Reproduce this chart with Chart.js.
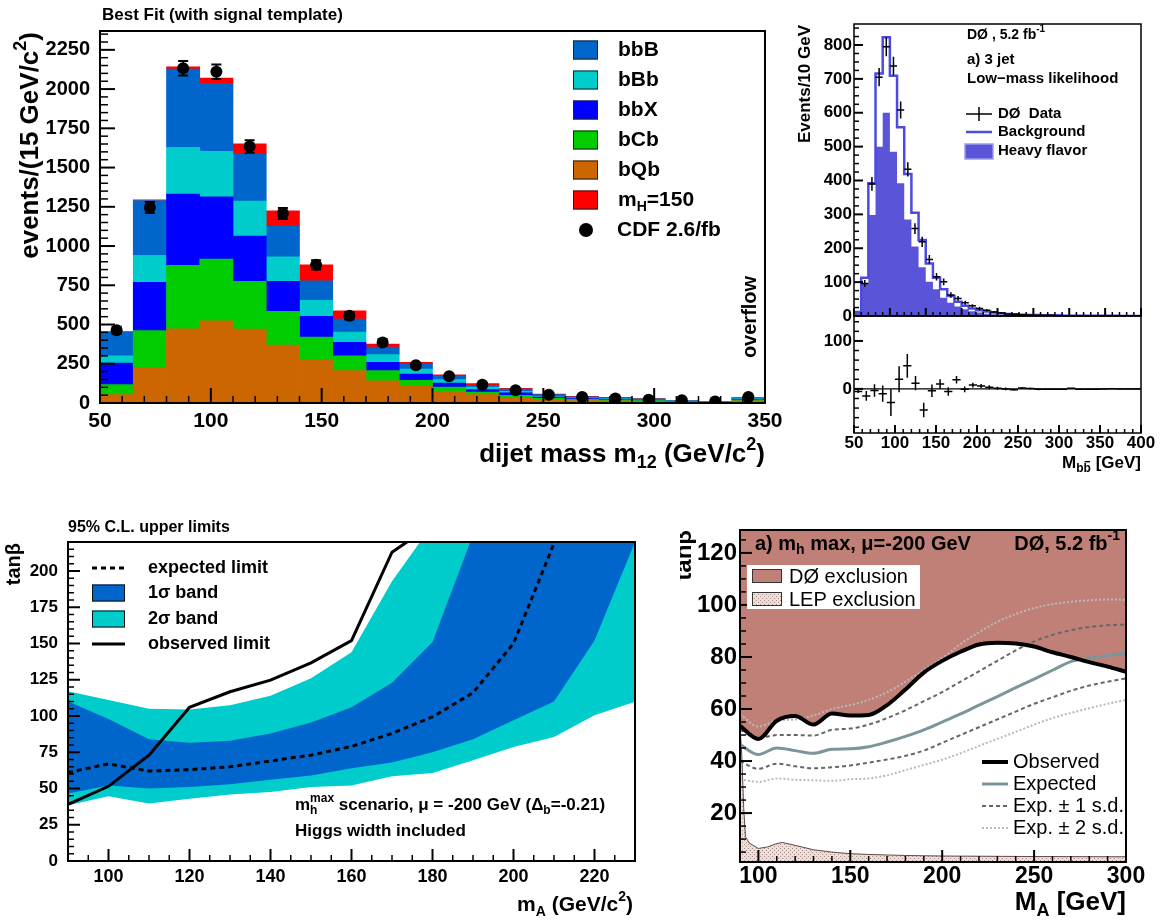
<!DOCTYPE html>
<html>
<head>
<meta charset="utf-8">
<title>Dijet mass fits and tanβ limits</title>
<script src="https://cdn.jsdelivr.net/npm/chart.js@4.4.1/dist/chart.umd.min.js"></script>
<style>
  html, body { margin: 0; padding: 0; background: #fff; }
  #page { position: relative; width: 1161px; height: 922px; overflow: hidden; }
  #page canvas { position: absolute; left: 0; top: 0; }
</style>
</head>
<body>
<div id="page">
  <canvas id="fitChart" width="1161" height="922"></canvas>
  <canvas id="mbbChart" width="1161" height="922"></canvas>
  <canvas id="residChart" width="1161" height="922"></canvas>
  <canvas id="cdfLimitChart" width="1161" height="922"></canvas>
  <canvas id="d0LimitChart" width="1161" height="922"></canvas>
</div>
<script>
// ---------- CDF dijet mass fit (15 GeV bins, last one is the overflow) ----------
const fitBinLow = [50, 65, 80, 95, 110, 125, 140, 155, 170, 185, 200, 215, 230, 245, 260, 275, 290, 305, 320, 335];
const fitBinWidth = 15;
const bQb = [53, 227, 473, 524, 471, 369, 276, 206, 142, 106, 74, 53, 36, 21, 16, 14, 11, 6, 3, 14];
const bCb = [64, 234, 404, 393, 304, 215, 144, 95, 64, 38, 28, 17, 13, 9, 7, 6, 5, 3, 2, 6];
const bbX = [138, 307, 454, 397, 288, 191, 132, 85, 53, 41, 25, 15, 15, 8, 5, 5, 4, 2, 1, 5];
const bBb = [46, 172, 297, 289, 223, 157, 102, 66, 49, 31, 22, 17, 10, 4, 5, 4, 3, 2, 1, 4];
const bbB = [151, 350, 499, 433, 302, 193, 125, 83, 49, 32, 21, 10, 15, 11, 6, 5, 4, 2, 1, 4];
const mH150 = [3, 5, 15, 34, 63, 99, 101, 53, 19, 11, 10, 11, 4, 4, 3, 2, 1, 1, 0, 1];
const cdfData = [463, 1246, 2133, 2110, 1634, 1208, 880, 556, 386, 240, 170, 117, 81, 53, 38, 28, 21, 17, 10, 38];
const cdfErr = [22, 35, 46, 46, 40, 35, 30, 24, 20, 15, 13, 11, 9, 7, 6, 5, 5, 4, 3, 6];

// ---------- D0 3-jet M_bb (10 GeV bins) ----------
const mbbBinLow = [50, 60, 70, 80, 90, 100, 110, 120, 130, 140, 150, 160, 170, 180, 190, 200, 210, 220, 230, 240,
                   250, 260, 270, 280, 290, 300, 310, 320, 330, 340, 350, 360, 370, 380, 390, 400, 410, 420, 430, 440];
const mbbBinWidth = 10;
const mbbHeavy = [10, 96, 298, 500, 600, 485, 392, 285, 205, 144, 101, 79, 54, 39, 28, 20, 14, 10, 7, 5,
                  4, 3, 2, 2, 1, 1, 1, 1, 1, 1, 0, 0, 0, 0, 0, 0, 0, 0, 0, 0];
const mbbBkg = [12, 113, 392, 716, 823, 709, 557, 419, 305, 224, 155, 113, 79, 59, 42, 30, 22, 17, 13, 10,
                8, 6, 5, 4, 3, 3, 2, 2, 2, 1, 1, 1, 1, 1, 1, 1, 1, 0, 0, 0];
const mbbData = [null, 96, 390, 705, 795, 738, 608, 433, 258, 219, 167, 116, 101, 62, 52, 39, 30, 22, 17, 12,
                 9, 6, 5, 4, 3, 2, 2, 2, 1, 1, 1, 1, 1, 1, 1, 1, 0, 0, 0, 0];
const mbbErr = [0, 10, 20, 27, 28, 27, 25, 21, 16, 15, 13, 11, 10, 8, 7, 6, 5, 5, 4, 3,
                3, 2, 2, 2, 2, 1, 1, 1, 1, 1, 1, 1, 1, 1, 1, 1, 1, 1, 1, 1];
// data - background, lower pad
const residMass = [55, 65, 75, 85, 95, 105, 115, 125, 135, 145, 155, 165, 175, 185, 195, 205, 215, 225, 235, 245,
                   255, 265, 275, 285, 295, 305, 315, 325, 335, 345, 355, 365, 375, 385, 395];
const residVal = [-5.5, -14.6, -3.5, -10, -28.5, 20, 48, 12, -44, -4, 10, -5.5, 19, -1, 8, 6, 3.5, 1.4, 0, -2,
                  2, 0.7, -0.7, -1, -1, -1, 1.4, -0.5, -0.5, -0.5, 0, 0.5, 0, 0, 0];
const residErr = [3, 10, 13, 17, 28, 27, 25, 15, 15, 13, 10, 9, 8, 6, 5, 4, 4, 3, 3, 2,
                  2, 2, 2, 1, 1, 1, 1, 1, 1, 1, 1, 1, 1, 1, 1];

// ---------- CDF 95% C.L. tanβ limits ----------
const cdfMA = [90, 100, 110, 120, 130, 140, 150, 160, 170, 180, 190, 200, 210, 220, 230];
const cdfObs = [39, 51.5, 73, 106, 116.7, 124.7, 136.7, 152, 213, 232, 280, 330, 380, 430, 480];
const cdfExp = [61, 67, 62, 63, 65, 69, 73, 79, 88, 99.4, 116, 150, 219, 320, 420];
const cdfUp1 = [110, 98, 84, 81.5, 83, 88, 95.5, 106, 123, 151, 225, 300, 380, 450, 520];
const cdfDn1 = [46.5, 52, 50, 51, 53, 56, 59, 64, 68, 75, 84, 97, 110, 152, 220];
const cdfUp2 = [117, 111, 105, 104.5, 107.5, 114, 126, 144, 193, 232, 290, 350, 420, 480, 550];
const cdfDn2 = [38.4, 44.6, 39.6, 43, 45.8, 47.6, 51, 52, 58.4, 60.7, 69.5, 78.7, 85.6, 100.6, 109.8];

// ---------- D0 tanβ exclusion ----------
const d0MA = [90, 100, 110, 120, 130, 140, 150, 160, 170, 180, 190, 200, 210, 220, 230, 240, 250, 260, 270, 280, 290, 300];
const d0Obs = [53.5, 48.5, 55.5, 57.3, 54, 58.3, 57.5, 57.7, 61.5, 67.5, 74, 78.5, 82, 84.8, 85.5, 85.2, 84, 81.8, 80, 78, 76.3, 74.3];
const d0Exp = [46.3, 42.5, 45, 44, 43, 44.5, 44.7, 45.5, 47.3, 49.5, 52, 55, 58.1, 61.5, 64.8, 68.2, 71.5, 74.9, 78.2, 79.5, 80.6, 81.6];
const d0Up1 = [52, 48.8, 50, 50, 49.8, 52, 52.5, 54, 56.5, 59.5, 63, 66.5, 70.5, 74.5, 78.5, 82.5, 86, 88.5, 90.3, 91.5, 92.2, 92.5];
const d0Dn1 = [40, 37, 39, 38, 37.2, 37.6, 38.3, 39.4, 40.6, 42, 44, 47, 50, 53, 56, 59, 62, 64.5, 67, 69, 70.5, 71.8];
const d0Up2 = [58, 53.3, 55.5, 56, 57.5, 60, 61.5, 63.5, 66.5, 70.5, 75, 79.5, 85, 89.5, 93.5, 96.5, 98.8, 100.3, 101.2, 101.8, 102.1, 102];
const d0Dn2 = [33, 32, 33.3, 32.8, 32.6, 32.4, 33, 33.3, 34.5, 36.5, 38.5, 40.5, 43, 45.8, 48.5, 51.2, 54, 56.5, 58.5, 60.3, 62, 63.5];
const lepMA = [90, 91, 92, 93, 95, 100, 105, 110, 113, 120, 130, 140, 150, 160, 180, 200, 250, 300];
const lepTanb = [53, 42, 22, 11, 8.5, 6.4, 7, 8.3, 8.7, 7.6, 5.9, 5, 4.4, 4.1, 3.7, 3.5, 3.3, 3.2];

const FONT = "'Liberation Sans', Arial, Helvetica, sans-serif";
Chart.defaults.font.family = FONT;
Chart.defaults.color = '#000';
Chart.defaults.animation = false;
Chart.defaults.responsive = false;
Chart.defaults.plugins.legend.display = false;
Chart.defaults.plugins.tooltip.enabled = false;
Chart.defaults.elements.point.radius = 0;

function xy(xs, ys) {
  return xs.map((x, i) => ({ x: x, y: ys[i] })).filter(p => p.y !== null);
}

// outline points for a histogram drawn as a stepped line
function histSteps(lows, width, vals) {
  const pts = [{ x: lows[0], y: 0 }];
  vals.forEach((v, i) => pts.push({ x: lows[i], y: v }));
  pts.push({ x: lows[lows.length - 1] + width, y: vals[vals.length - 1] });
  return pts;
}

function linAxis(o) {
  return {
    type: 'linear',
    position: o.position,
    display: o.display !== false,
    min: o.min,
    max: o.max,
    offset: false,
    grid: { display: false, drawTicks: false },
    border: { display: false },
    ticks: {
      padding: o.pad,
      autoSkip: false,
      maxRotation: 0,
      color: '#000',
      font: { size: o.font, weight: 'bold' },
      callback: v => String(v)
    },
    // labelled ticks only on multiples of the step
    afterBuildTicks: s => {
      const out = [];
      for (let i = Math.ceil(s.min / o.step - 1e-9); i * o.step <= s.max + 1e-9; i++) out.push({ value: i * o.step });
      s.ticks = out;
    },
    afterFit: s => {
      if (o.position === 'left') s.width = o.size; else s.height = o.size;
    }
  };
}

// text with sub/superscripts; parts are strings or {t, sub|sup, hold, bar}
function rich(ctx, parts, x, y, size, align, weight) {
  weight = weight || 'bold';
  const small = Math.round(size * 0.68);
  const items = parts.map(p => typeof p === 'string' ? { t: p } : Object.assign({}, p));
  const fontOf = p => `${weight} ${p.sub || p.sup ? small : size}px ${FONT}`;
  let total = 0;
  items.forEach(p => {
    ctx.font = fontOf(p);
    p.w = ctx.measureText(p.t).width;
    if (!p.hold) total += p.w;
  });
  let cx = align === 'right' ? x - total : align === 'center' ? x - total / 2 : x;
  ctx.textAlign = 'left';
  ctx.textBaseline = 'middle';
  items.forEach(p => {
    ctx.font = fontOf(p);
    const dy = p.sub ? size * 0.32 : p.sup ? -size * 0.38 : 0;
    ctx.fillText(p.t, cx, y + dy);
    if (p.bar) ctx.fillRect(cx + 1, y + dy - small * 0.62, p.w - 2, Math.max(1, size * 0.08));
    if (!p.hold) cx += p.w;
  });
}

function vrich(ctx, parts, x, y, size, align, weight) {
  ctx.save();
  ctx.translate(x, y);
  ctx.rotate(-Math.PI / 2);
  rich(ctx, parts, 0, 0, size, align, weight);
  ctx.restore();
}

function line(ctx, x1, y1, x2, y2, color, width, dash) {
  ctx.save();
  ctx.strokeStyle = color;
  ctx.lineWidth = width;
  ctx.setLineDash(dash || []);
  ctx.beginPath();
  ctx.moveTo(x1, y1);
  ctx.lineTo(x2, y2);
  ctx.stroke();
  ctx.restore();
}

// ROOT-style frame with ticks pointing into the pad
const rootAxes = {
  id: 'rootAxes',
  afterDatasetsDraw(chart, args, opts) {
    if (!opts.x) return;
    const { ctx, chartArea: a } = chart;
    ctx.save();
    ctx.strokeStyle = '#000';
    ['x', 'y'].forEach(id => {
      const t = opts[id], s = chart.scales[id];
      const first = Math.ceil(s.min / t.minor - 1e-6);
      const last = Math.floor(s.max / t.minor + 1e-6);
      for (let i = first; i <= last; i++) {
        const v = i * t.minor;
        const major = Math.abs(v / t.major - Math.round(v / t.major)) < 1e-6;
        const len = major ? t.majorLen : t.minorLen;
        const p = s.getPixelForValue(v);
        ctx.lineWidth = major ? 2 : 1.5;
        ctx.beginPath();
        if (id === 'x') { ctx.moveTo(p, a.bottom); ctx.lineTo(p, a.bottom - len); }
        else { ctx.moveTo(a.left, p); ctx.lineTo(a.left + len, p); }
        ctx.stroke();
      }
    });
    ctx.lineWidth = opts.frame || 2;
    ctx.strokeRect(a.left, a.top, a.width, a.height);
    ctx.restore();
  }
};

// vertical (and optional horizontal) error bars from dataset.yErr
const errorBars = {
  id: 'errorBars',
  afterDatasetsDraw(chart) {
    const { ctx, chartArea: a } = chart;
    const xs = chart.scales.x, ys = chart.scales.y;
    chart.data.datasets.forEach(ds => {
      if (!ds.yErr) return;
      const st = ds.errStyle || {};
      ctx.save();
      ctx.beginPath();
      ctx.rect(a.left, a.top, a.width, a.height);
      ctx.clip();
      ctx.strokeStyle = '#000';
      ctx.lineWidth = st.width || 1.5;
      ds.data.forEach((pt, j) => {
        const e = ds.yErr[j] || 0;
        const px = xs.getPixelForValue(pt.x);
        const py = ys.getPixelForValue(pt.y);
        const top = ys.getPixelForValue(pt.y + e), bot = ys.getPixelForValue(pt.y - e);
        ctx.beginPath();
        ctx.moveTo(px, top);
        ctx.lineTo(px, bot);
        if (st.cap) {
          ctx.moveTo(px - st.cap, top); ctx.lineTo(px + st.cap, top);
          ctx.moveTo(px - st.cap, bot); ctx.lineTo(px + st.cap, bot);
        }
        if (st.xErr) {
          ctx.moveTo(xs.getPixelForValue(pt.x - st.xErr), py);
          ctx.lineTo(xs.getPixelForValue(pt.x + st.xErr), py);
        }
        ctx.stroke();
      });
      ctx.restore();
    });
  }
};

Chart.register(rootAxes, errorBars);

// ================= top left: stacked fit =================
const fitCenters = fitBinLow.map(x => x + fitBinWidth / 2);
const fitSeries = [
  { label: 'bQb', color: '#cc6600', values: bQb },
  { label: 'bCb', color: '#00cc00', values: bCb },
  { label: 'bbX', color: '#0000ff', values: bbX },
  { label: 'bBb', color: '#00cccc', values: bBb },
  { label: 'bbB', color: '#0066cc', values: bbB },
  { label: 'mH=150', color: '#ff0000', values: mH150 }
];

const fitText = {
  id: 'fitText',
  afterDraw(chart) {
    const ctx = chart.ctx;
    ctx.save();
    ctx.fillStyle = '#000';
    rich(ctx, ['Best Fit (with signal template)'], 102, 15, 17, 'left');
    rich(ctx, ['dijet mass m', { t: '12', sub: true }, ' (GeV/c', { t: '2', sup: true }, ')'], 765, 455, 26, 'right');
    vrich(ctx, ['events/(15 GeV/c', { t: '2', sup: true }, ')'], 31, 32, 26, 'right');
    vrich(ctx, ['overflow'], 750, 317, 20, 'center');

    // legend: backgrounds from the top of the stack down, then the signal
    const rows = fitSeries.slice(0, 5).reverse().concat([fitSeries[5]]);
    rows.forEach((s, i) => {
      const y = 50 + 30 * i;
      ctx.fillStyle = s.color;
      ctx.fillRect(573, y - 9.5, 25, 19);
      ctx.strokeStyle = '#222';
      ctx.lineWidth = 1;
      ctx.strokeRect(573.5, y - 9, 24, 18);
      ctx.fillStyle = '#000';
      const label = s.label === 'mH=150' ? ['m', { t: 'H', sub: true }, '=150'] : [s.label];
      rich(ctx, label, 618, y, 21, 'left');
    });
    ctx.beginPath();
    ctx.arc(586, 230, 7, 0, Math.PI * 2);
    ctx.fill();
    rich(ctx, ['CDF 2.6/fb'], 617, 230, 21, 'left');
    ctx.restore();
  }
};

new Chart(document.getElementById('fitChart'), {
  type: 'bar',
  data: {
    datasets: [
      {
        type: 'scatter', label: 'CDF 2.6/fb', stack: 'data',
        data: xy(fitCenters, cdfData), yErr: cdfErr, errStyle: { cap: 5, width: 2 },
        pointRadius: 6, pointBackgroundColor: '#000', pointBorderWidth: 0
      }
    ].concat(fitSeries.map(s => ({
      label: s.label, stack: 'fit',
      data: xy(fitCenters, s.values),
      backgroundColor: s.color, borderWidth: 0,
      barPercentage: 1, categoryPercentage: 1
    })))
  },
  options: {
    layout: { padding: { left: 0, top: 31, right: 396, bottom: 479 } },
    scales: {
      x: Object.assign(linAxis({ position: 'bottom', min: 50, max: 350, step: 50, font: 21, pad: 6, size: 40 }), { stacked: true }),
      y: Object.assign(linAxis({ position: 'left', min: 0, max: 2370, step: 250, font: 20, pad: 10, size: 100 }), { stacked: true })
    },
    plugins: {
      rootAxes: {
        x: { major: 50, minor: 10, majorLen: 15, minorLen: 7 },
        y: { major: 250, minor: 50, majorLen: 15, minorLen: 8 },
        frame: 2
      }
    }
  },
  plugins: [fitText]
});

// ================= top right: D0 M_bb with residuals =================
const HF_COLOR = '#5a55d8';
const BKG_COLOR = '#4b4be2';

const mbbText = {
  id: 'mbbText',
  afterDraw(chart) {
    const ctx = chart.ctx;
    ctx.save();
    ctx.fillStyle = '#000';
    rich(ctx, ['DØ , 5.2 fb', { t: '-1', sup: true }], 967, 35, 14, 'left');
    rich(ctx, ['a) 3 jet'], 967, 60, 15, 'left');
    rich(ctx, ['Low−mass likelihood'], 967, 79, 15, 'left');
    line(ctx, 966, 114, 992, 114, '#000', 1.5);
    line(ctx, 979, 107, 979, 121, '#000', 1.5);
    rich(ctx, ['DØ  Data'], 998, 114, 15, 'left');
    line(ctx, 966, 132, 992, 132, BKG_COLOR, 2.5);
    rich(ctx, ['Background'], 998, 132, 15, 'left');
    ctx.fillStyle = HF_COLOR;
    ctx.fillRect(965, 144, 28, 15);
    ctx.strokeStyle = '#9d9aec';
    ctx.lineWidth = 1.5;
    ctx.strokeRect(965, 144, 28, 15);
    ctx.fillStyle = '#000';
    rich(ctx, ['Heavy flavor'], 998, 151, 15, 'left');
    vrich(ctx, ['Events/10 GeV'], 805, 25, 17, 'right');
    ctx.restore();
  }
};

new Chart(document.getElementById('mbbChart'), {
  type: 'line',
  data: {
    datasets: [
      {
        label: 'DØ Data', showLine: false,
        data: xy(mbbBinLow.map(x => x + mbbBinWidth / 2), mbbData),
        yErr: mbbErr.filter((e, i) => mbbData[i] !== null),
        errStyle: { xErr: mbbBinWidth / 2, width: 1.5 }
      },
      {
        label: 'Background', data: histSteps(mbbBinLow, mbbBinWidth, mbbBkg),
        stepped: true, borderColor: BKG_COLOR, borderWidth: 2.5, fill: false
      },
      {
        label: 'Heavy flavor', data: histSteps(mbbBinLow, mbbBinWidth, mbbHeavy),
        stepped: true, borderWidth: 0, backgroundColor: HF_COLOR, fill: 'origin'
      }
    ]
  },
  options: {
    layout: { padding: { left: 804, top: 24, right: 20, bottom: 606 } },
    scales: {
      x: linAxis({ position: 'bottom', display: false, min: 50, max: 450, step: 50, font: 17, pad: 0, size: 0 }),
      y: linAxis({ position: 'left', min: 0, max: 862, step: 100, font: 17, pad: 2, size: 50 })
    },
    plugins: {
      rootAxes: {
        x: { major: 50, minor: 10, majorLen: 8, minorLen: 4 },
        y: { major: 100, minor: 25, majorLen: 9, minorLen: 5 },
        frame: 1.5
      }
    }
  },
  plugins: [mbbText]
});

const residText = {
  id: 'residText',
  beforeDatasetsDraw(chart) {
    const { ctx, chartArea: a, scales } = chart;
    const y0 = scales.y.getPixelForValue(0);
    line(ctx, a.left, y0, a.right, y0, '#000', 1.2);
  },
  afterDraw(chart) {
    const ctx = chart.ctx;
    ctx.save();
    ctx.fillStyle = '#000';
    rich(ctx, ['M', { t: 'b', sub: true }, { t: 'b', sub: true, bar: true }, ' [GeV]'], 1141, 463, 17, 'right');
    ctx.restore();
  }
};

new Chart(document.getElementById('residChart'), {
  type: 'line',
  data: {
    datasets: [{
      label: 'Data - Background', showLine: false,
      data: xy(residMass, residVal), yErr: residErr,
      errStyle: { xErr: 5, width: 1.5 }
    }]
  },
  options: {
    layout: { padding: { left: 804, top: 316, right: 20, bottom: 459 } },
    scales: {
      x: linAxis({ position: 'bottom', min: 50, max: 400, step: 50, font: 17, pad: 0, size: 30 }),
      y: linAxis({ position: 'left', min: -92, max: 152, step: 100, font: 17, pad: 2, size: 50 })
    },
    plugins: {
      rootAxes: {
        x: { major: 50, minor: 10, majorLen: 8, minorLen: 4 },
        y: { major: 100, minor: 20, majorLen: 9, minorLen: 5 },
        frame: 1.5
      }
    }
  },
  plugins: [residText]
});

// ================= bottom left: CDF limits =================
const BAND1 = '#0066cc';
const BAND2 = '#00cccc';

const cdfText = {
  id: 'cdfText',
  afterDraw(chart) {
    const ctx = chart.ctx;
    ctx.save();
    ctx.fillStyle = '#000';
    rich(ctx, ['95% C.L. upper limits'], 68, 528, 16, 'left');
    vrich(ctx, ['tanβ'], 14, 543, 20, 'right');
    rich(ctx, ['m', { t: 'A', sub: true }, ' (GeV/c', { t: '2', sup: true }, ')'], 633, 905, 21, 'right');
    rich(ctx, ['m', { t: 'h', sub: true, hold: true }, { t: 'max', sup: true },
               ' scenario, μ = -200 GeV (Δ', { t: 'b', sub: true }, '=-0.21)'], 295, 805, 17, 'left');
    rich(ctx, ['Higgs width included'], 295, 831, 17, 'left');

    line(ctx, 92, 568, 125, 568, '#000', 3, [5, 4]);
    rich(ctx, ['expected limit'], 148, 568, 18, 'left');
    [[BAND1, 593, '1σ band'], [BAND2, 619, '2σ band']].forEach(r => {
      ctx.fillStyle = r[0];
      ctx.fillRect(92, r[1] - 8.5, 33, 17);
      ctx.strokeStyle = '#111';
      ctx.lineWidth = 1;
      ctx.strokeRect(92.5, r[1] - 8, 32, 16);
      ctx.fillStyle = '#000';
      rich(ctx, [r[2]], 148, r[1], 18, 'left');
    });
    line(ctx, 92, 644, 125, 644, '#000', 3);
    rich(ctx, ['observed limit'], 148, 644, 18, 'left');
    ctx.restore();
  }
};

new Chart(document.getElementById('cdfLimitChart'), {
  type: 'line',
  data: {
    datasets: [
      { label: 'observed limit', data: xy(cdfMA, cdfObs), borderColor: '#000', borderWidth: 3, fill: false },
      { label: 'expected limit', data: xy(cdfMA, cdfExp), borderColor: '#000', borderWidth: 3, borderDash: [5, 4], fill: false },
      { label: '1σ upper', data: xy(cdfMA, cdfUp1), borderWidth: 0, backgroundColor: BAND1, fill: '+1' },
      { label: '1σ lower', data: xy(cdfMA, cdfDn1), borderWidth: 0, fill: false },
      { label: '2σ upper', data: xy(cdfMA, cdfUp2), borderWidth: 0, backgroundColor: BAND2, fill: '+1' },
      { label: '2σ lower', data: xy(cdfMA, cdfDn2), borderWidth: 0, fill: false }
    ]
  },
  options: {
    layout: { padding: { left: 8, top: 542, right: 526, bottom: 31 } },
    scales: {
      x: linAxis({ position: 'bottom', min: 90, max: 230, step: 20, font: 18, pad: 5, size: 30 }),
      y: linAxis({ position: 'left', min: 0, max: 220, step: 25, font: 17, pad: 10, size: 60 })
    },
    plugins: {
      rootAxes: {
        x: { major: 20, minor: 5, majorLen: 12, minorLen: 6 },
        y: { major: 25, minor: 5, majorLen: 12, minorLen: 6 },
        frame: 2
      }
    }
  },
  plugins: [cdfText]
});

// ================= bottom right: D0 exclusion =================
const EXCL = '#c08078';
const EXP_COLOR = '#7c959b';
const d0Canvas = document.getElementById('d0LimitChart');
const lepTile = document.createElement('canvas');
lepTile.width = 4;
lepTile.height = 4;
const tileCtx = lepTile.getContext('2d');
tileCtx.fillStyle = '#ecdeda';
tileCtx.fillRect(0, 0, 4, 4);
tileCtx.fillStyle = '#a88f8a';
tileCtx.fillRect(0, 0, 1, 1);
tileCtx.fillRect(2, 2, 1, 1);
const LEP_FILL = d0Canvas.getContext('2d').createPattern(lepTile, 'repeat');

const d0Text = {
  id: 'd0Text',
  afterDraw(chart) {
    const ctx = chart.ctx;
    ctx.save();
    ctx.fillStyle = '#000';
    rich(ctx, ['a) m', { t: 'h', sub: true }, ' max, μ=-200 GeV'], 755, 544, 20, 'left');
    rich(ctx, ['DØ, 5.2 fb', { t: '-1', sup: true }], 1120, 544, 20, 'right');
    rich(ctx, ['M', { t: 'A', sub: true }, ' [GeV]'], 1126, 903, 26, 'right');

    // axis title sits at the panel edge and is cut there
    ctx.save();
    ctx.beginPath();
    ctx.rect(680, 500, 60, 120);
    ctx.clip();
    vrich(ctx, ['tanβ'], 684, 530, 24, 'right');
    ctx.restore();

    ctx.fillStyle = '#fff';
    ctx.fillRect(747, 565, 173, 44);
    ctx.strokeStyle = '#333';
    ctx.lineWidth = 1;
    ctx.fillStyle = EXCL;
    ctx.fillRect(752, 569, 30, 14);
    ctx.strokeRect(752.5, 569.5, 29, 13);
    ctx.fillStyle = LEP_FILL;
    ctx.fillRect(752, 592, 30, 14);
    ctx.strokeRect(752.5, 592.5, 29, 13);
    ctx.fillStyle = '#000';
    rich(ctx, ['DØ exclusion'], 789, 577, 20, 'left', 'normal');
    rich(ctx, ['LEP exclusion'], 789, 600, 20, 'left', 'normal');

    line(ctx, 982, 762, 1008, 762, '#000', 4);
    line(ctx, 982, 784, 1008, 784, EXP_COLOR, 3);
    line(ctx, 982, 806, 1008, 806, '#666', 2, [4, 3]);
    line(ctx, 982, 828, 1008, 828, '#b9b9b9', 2, [2, 2]);
    rich(ctx, ['Observed'], 1013, 762, 20, 'left', 'normal');
    rich(ctx, ['Expected'], 1013, 784, 20, 'left', 'normal');
    rich(ctx, ['Exp. ± 1 s.d.'], 1013, 806, 20, 'left', 'normal');
    rich(ctx, ['Exp. ± 2 s.d.'], 1013, 828, 20, 'left', 'normal');
    ctx.restore();
  }
};

new Chart(d0Canvas, {
  type: 'line',
  data: {
    datasets: [
      { label: 'Observed', data: xy(d0MA, d0Obs), borderColor: '#000', borderWidth: 4, cubicInterpolationMode: 'monotone' },
      { label: 'Expected', data: xy(d0MA, d0Exp), borderColor: EXP_COLOR, borderWidth: 3, cubicInterpolationMode: 'monotone' },
      { label: 'Exp. +1 s.d.', data: xy(d0MA, d0Up1), borderColor: '#666', borderWidth: 2, borderDash: [4, 3], cubicInterpolationMode: 'monotone' },
      { label: 'Exp. -1 s.d.', data: xy(d0MA, d0Dn1), borderColor: '#666', borderWidth: 2, borderDash: [4, 3], cubicInterpolationMode: 'monotone' },
      { label: 'Exp. +2 s.d.', data: xy(d0MA, d0Up2), borderColor: '#b9b9b9', borderWidth: 2, borderDash: [2, 2], cubicInterpolationMode: 'monotone' },
      { label: 'Exp. -2 s.d.', data: xy(d0MA, d0Dn2), borderColor: '#b9b9b9', borderWidth: 2, borderDash: [2, 2], cubicInterpolationMode: 'monotone' },
      { label: 'LEP exclusion', data: xy(lepMA, lepTanb), borderColor: '#5e4a47', borderWidth: 1, backgroundColor: LEP_FILL, fill: 'start' },
      { label: 'DØ exclusion', data: xy(d0MA, d0Obs), borderWidth: 0, backgroundColor: EXCL, fill: 'end', cubicInterpolationMode: 'monotone' }
    ]
  },
  options: {
    layout: { padding: { left: 680, top: 530, right: 35, bottom: 30 } },
    scales: {
      x: linAxis({ position: 'bottom', min: 90, max: 300, step: 50, font: 23, pad: 1, size: 30 }),
      y: linAxis({ position: 'left', min: 1.2, max: 128.8, step: 20, font: 24, pad: 3, size: 60 })
    },
    plugins: {
      rootAxes: {
        x: { major: 50, minor: 10, majorLen: 12, minorLen: 6 },
        y: { major: 20, minor: 5, majorLen: 12, minorLen: 6 },
        frame: 2
      }
    }
  },
  plugins: [d0Text]
});
</script>
</body>
</html>
